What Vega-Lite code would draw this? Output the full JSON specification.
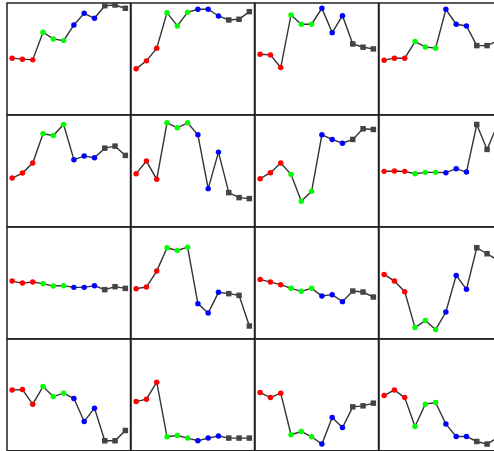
{
"$schema": "https://vega.github.io/schema/vega-lite/v6.json",
"padding": {"left": 6, "top": 1, "right": 0, "bottom": 0},
"background": "white",
"datasets": {"d": [
{"p":1,"i":1,"v":56.7,"g":"a"},{"p":1,"i":2,"v":55.7,"g":"a"},{"p":1,"i":3,"v":55,"g":"a"},{"p":1,"i":4,"v":82.7,"g":"b"},{"p":1,"i":5,"v":76,"g":"b"},{"p":1,"i":6,"v":74.3,"g":"b"},{"p":1,"i":7,"v":90,"g":"c"},{"p":1,"i":8,"v":101.7,"g":"c"},{"p":1,"i":9,"v":96.7,"g":"c"},{"p":1,"i":10,"v":109.3,"g":"d"},{"p":1,"i":11,"v":110,"g":"d"},{"p":1,"i":12,"v":106.7,"g":"d"},
{"p":2,"i":1,"v":46,"g":"a"},{"p":2,"i":2,"v":54,"g":"a"},{"p":2,"i":3,"v":66.7,"g":"a"},{"p":2,"i":4,"v":102.3,"g":"b"},{"p":2,"i":5,"v":89,"g":"b"},{"p":2,"i":6,"v":102.7,"g":"b"},{"p":2,"i":7,"v":105.7,"g":"c"},{"p":2,"i":8,"v":105.7,"g":"c"},{"p":2,"i":9,"v":99,"g":"c"},{"p":2,"i":10,"v":95,"g":"d"},{"p":2,"i":11,"v":95.7,"g":"d"},{"p":2,"i":12,"v":103.3,"g":"d"},
{"p":3,"i":1,"v":60.7,"g":"a"},{"p":3,"i":2,"v":60,"g":"a"},{"p":3,"i":3,"v":47.3,"g":"a"},{"p":3,"i":4,"v":100,"g":"b"},{"p":3,"i":5,"v":90.7,"g":"b"},{"p":3,"i":6,"v":90.7,"g":"b"},{"p":3,"i":7,"v":106.7,"g":"c"},{"p":3,"i":8,"v":82.3,"g":"c"},{"p":3,"i":9,"v":99.3,"g":"c"},{"p":3,"i":10,"v":71,"g":"d"},{"p":3,"i":11,"v":67.7,"g":"d"},{"p":3,"i":12,"v":66,"g":"d"},
{"p":4,"i":1,"v":54.7,"g":"a"},{"p":4,"i":2,"v":56.7,"g":"a"},{"p":4,"i":3,"v":56.7,"g":"a"},{"p":4,"i":4,"v":73.3,"g":"b"},{"p":4,"i":5,"v":68,"g":"b"},{"p":4,"i":6,"v":66.7,"g":"b"},{"p":4,"i":7,"v":105.7,"g":"c"},{"p":4,"i":8,"v":90.7,"g":"c"},{"p":4,"i":9,"v":89,"g":"c"},{"p":4,"i":10,"v":69.3,"g":"d"},{"p":4,"i":11,"v":69.3,"g":"d"},{"p":4,"i":12,"v":74,"g":"d"},
{"p":5,"i":1,"v":48.8,"g":"a"},{"p":5,"i":2,"v":53.8,"g":"a"},{"p":5,"i":3,"v":63.8,"g":"a"},{"p":5,"i":4,"v":93.2,"g":"b"},{"p":5,"i":5,"v":91.5,"g":"b"},{"p":5,"i":6,"v":102.5,"g":"b"},{"p":5,"i":7,"v":67.2,"g":"c"},{"p":5,"i":8,"v":70.8,"g":"c"},{"p":5,"i":9,"v":69.2,"g":"c"},{"p":5,"i":10,"v":78.8,"g":"d"},{"p":5,"i":11,"v":80.8,"g":"d"},{"p":5,"i":12,"v":71.5,"g":"d"},
{"p":6,"i":1,"v":53.2,"g":"a"},{"p":6,"i":2,"v":65.8,"g":"a"},{"p":6,"i":3,"v":47.5,"g":"a"},{"p":6,"i":4,"v":104.2,"g":"b"},{"p":6,"i":5,"v":99.2,"g":"b"},{"p":6,"i":6,"v":104.2,"g":"b"},{"p":6,"i":7,"v":92.2,"g":"c"},{"p":6,"i":8,"v":38.2,"g":"c"},{"p":6,"i":9,"v":74.8,"g":"c"},{"p":6,"i":10,"v":34.2,"g":"d"},{"p":6,"i":11,"v":29.2,"g":"d"},{"p":6,"i":12,"v":28.2,"g":"d"},
{"p":7,"i":1,"v":48.2,"g":"a"},{"p":7,"i":2,"v":54.2,"g":"a"},{"p":7,"i":3,"v":63.8,"g":"a"},{"p":7,"i":4,"v":52.5,"g":"b"},{"p":7,"i":5,"v":25.5,"g":"b"},{"p":7,"i":6,"v":35.5,"g":"b"},{"p":7,"i":7,"v":92.2,"g":"c"},{"p":7,"i":8,"v":87.5,"g":"c"},{"p":7,"i":9,"v":83.8,"g":"c"},{"p":7,"i":10,"v":87.5,"g":"d"},{"p":7,"i":11,"v":98.2,"g":"d"},{"p":7,"i":12,"v":97.5,"g":"d"},
{"p":8,"i":1,"v":55.5,"g":"a"},{"p":8,"i":2,"v":55.8,"g":"a"},{"p":8,"i":3,"v":55.5,"g":"a"},{"p":8,"i":4,"v":53.2,"g":"b"},{"p":8,"i":5,"v":54.5,"g":"b"},{"p":8,"i":6,"v":54.5,"g":"b"},{"p":8,"i":7,"v":54.2,"g":"c"},{"p":8,"i":8,"v":58.2,"g":"c"},{"p":8,"i":9,"v":54.8,"g":"c"},{"p":8,"i":10,"v":102.5,"g":"d"},{"p":8,"i":11,"v":77.5,"g":"d"},{"p":8,"i":12,"v":102,"g":"d"},
{"p":9,"i":1,"v":57.8,"g":"a"},{"p":9,"i":2,"v":55.8,"g":"a"},{"p":9,"i":3,"v":56.8,"g":"a"},{"p":9,"i":4,"v":55.2,"g":"b"},{"p":9,"i":5,"v":52.8,"g":"b"},{"p":9,"i":6,"v":53.2,"g":"b"},{"p":9,"i":7,"v":51.5,"g":"c"},{"p":9,"i":8,"v":51.5,"g":"c"},{"p":9,"i":9,"v":53.2,"g":"c"},{"p":9,"i":10,"v":49.2,"g":"d"},{"p":9,"i":11,"v":52.2,"g":"d"},{"p":9,"i":12,"v":50.5,"g":"d"},
{"p":10,"i":1,"v":50.2,"g":"a"},{"p":10,"i":2,"v":51.8,"g":"a"},{"p":10,"i":3,"v":67.8,"g":"a"},{"p":10,"i":4,"v":91.2,"g":"b"},{"p":10,"i":5,"v":88.5,"g":"b"},{"p":10,"i":6,"v":91.8,"g":"b"},{"p":10,"i":7,"v":35.2,"g":"c"},{"p":10,"i":8,"v":25.8,"g":"c"},{"p":10,"i":9,"v":46.5,"g":"c"},{"p":10,"i":10,"v":45.2,"g":"d"},{"p":10,"i":11,"v":43.5,"g":"d"},{"p":10,"i":12,"v":12.8,"g":"d"},
{"p":11,"i":1,"v":59.5,"g":"a"},{"p":11,"i":2,"v":56.8,"g":"a"},{"p":11,"i":3,"v":54.2,"g":"a"},{"p":11,"i":4,"v":50.5,"g":"b"},{"p":11,"i":5,"v":47.5,"g":"b"},{"p":11,"i":6,"v":50.5,"g":"b"},{"p":11,"i":7,"v":42.8,"g":"c"},{"p":11,"i":8,"v":44.2,"g":"c"},{"p":11,"i":9,"v":37.2,"g":"c"},{"p":11,"i":10,"v":47.8,"g":"d"},{"p":11,"i":11,"v":46.8,"g":"d"},{"p":11,"i":12,"v":41.8,"g":"d"},
{"p":12,"i":1,"v":64.5,"g":"a"},{"p":12,"i":2,"v":57.8,"g":"a"},{"p":12,"i":3,"v":47.2,"g":"a"},{"p":12,"i":4,"v":11.2,"g":"b"},{"p":12,"i":5,"v":18.2,"g":"b"},{"p":12,"i":6,"v":9.2,"g":"b"},{"p":12,"i":7,"v":26.8,"g":"c"},{"p":12,"i":8,"v":63.5,"g":"c"},{"p":12,"i":9,"v":49.5,"g":"c"},{"p":12,"i":10,"v":91.2,"g":"d"},{"p":12,"i":11,"v":85.2,"g":"d"},{"p":12,"i":12,"v":79,"g":"d"},
{"p":13,"i":1,"v":61,"g":"a"},{"p":13,"i":2,"v":61.3,"g":"a"},{"p":13,"i":3,"v":46.7,"g":"a"},{"p":13,"i":4,"v":64.3,"g":"b"},{"p":13,"i":5,"v":54.3,"g":"b"},{"p":13,"i":6,"v":57.7,"g":"b"},{"p":13,"i":7,"v":52.3,"g":"c"},{"p":13,"i":8,"v":29.3,"g":"c"},{"p":13,"i":9,"v":42.7,"g":"c"},{"p":13,"i":10,"v":10,"g":"d"},{"p":13,"i":11,"v":10,"g":"d"},{"p":13,"i":12,"v":20.3,"g":"d"},
{"p":14,"i":1,"v":49.3,"g":"a"},{"p":14,"i":2,"v":51.7,"g":"a"},{"p":14,"i":3,"v":68.7,"g":"a"},{"p":14,"i":4,"v":14,"g":"b"},{"p":14,"i":5,"v":15.3,"g":"b"},{"p":14,"i":6,"v":12.7,"g":"b"},{"p":14,"i":7,"v":10,"g":"c"},{"p":14,"i":8,"v":12.7,"g":"c"},{"p":14,"i":9,"v":14.7,"g":"c"},{"p":14,"i":10,"v":12.7,"g":"d"},{"p":14,"i":11,"v":12.7,"g":"d"},{"p":14,"i":12,"v":12.7,"g":"d"},
{"p":15,"i":1,"v":58.3,"g":"a"},{"p":15,"i":2,"v":53.3,"g":"a"},{"p":15,"i":3,"v":57.7,"g":"a"},{"p":15,"i":4,"v":16,"g":"b"},{"p":15,"i":5,"v":19.3,"g":"b"},{"p":15,"i":6,"v":14,"g":"b"},{"p":15,"i":7,"v":6.7,"g":"c"},{"p":15,"i":8,"v":33.3,"g":"c"},{"p":15,"i":9,"v":23.3,"g":"c"},{"p":15,"i":10,"v":44,"g":"d"},{"p":15,"i":11,"v":45,"g":"d"},{"p":15,"i":12,"v":47.7,"g":"d"},
{"p":16,"i":1,"v":55.3,"g":"a"},{"p":16,"i":2,"v":61,"g":"a"},{"p":16,"i":3,"v":53.3,"g":"a"},{"p":16,"i":4,"v":24.3,"g":"b"},{"p":16,"i":5,"v":46.7,"g":"b"},{"p":16,"i":6,"v":48.3,"g":"b"},{"p":16,"i":7,"v":26.7,"g":"c"},{"p":16,"i":8,"v":14.3,"g":"c"},{"p":16,"i":9,"v":14.3,"g":"c"},{"p":16,"i":10,"v":9.3,"g":"d"},{"p":16,"i":11,"v":6.7,"g":"d"},{"p":16,"i":12,"v":13,"g":"d"}
]},
"data": {"name": "d"},
"facet": {"field": "p", "type": "ordinal", "title": null, "header": {"title": null, "labels": false, "labelExpr": "''", "labelFontSize": 0, "labelPadding": 0, "titlePadding": 0}},
"columns": 4,
"spacing": {"row": 0, "column": 0},
"bounds": "flush",
"spec": {
  "width": 123.5,
  "height": 111.75,
  "layer": [
    {"mark": {"type": "line", "color": "#333333", "strokeWidth": 1.4},
     "encoding": {
       "x": {"field": "i", "type": "quantitative", "scale": {"domain": [0.5, 12.5]}, "axis": null},
       "y": {"field": "v", "type": "quantitative", "scale": {"domain": [0, 112]}, "axis": null}
     }},
    {"mark": {"type": "point", "filled": true, "opacity": 1, "size": 30},
     "encoding": {
       "x": {"field": "i", "type": "quantitative", "scale": {"domain": [0.5, 12.5]}, "axis": null},
       "y": {"field": "v", "type": "quantitative", "scale": {"domain": [0, 112]}, "axis": null},
       "color": {"field": "g", "type": "nominal", "legend": null, "scale": {"domain": ["a","b","c","d"], "range": ["#ff0000","#00ff00","#0000ff","#444444"]}},
       "shape": {"field": "g", "type": "nominal", "legend": null, "scale": {"domain": ["a","b","c","d"], "range": ["circle","circle","circle","square"]}}
     }}
  ]
},
"config": {"view": {"stroke": "#222222", "strokeWidth": 1.5}, "facet": {"spacing": 0}, "header": {"labels": false, "title": null, "labelFontSize": 0, "labelPadding": 0}}
}
